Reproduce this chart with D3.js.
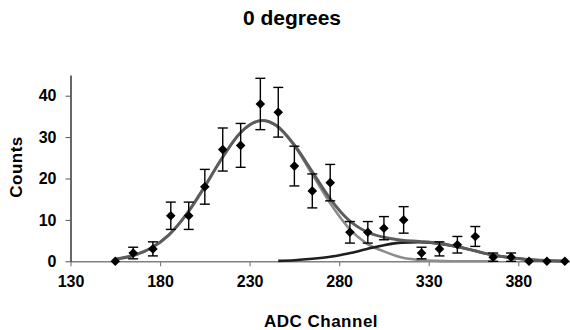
<!DOCTYPE html>
<html>
<head>
<meta charset="utf-8">
<script src="https://cdn.jsdelivr.net/npm/d3@7"></script>
<style>
  body { margin: 0; background: #fff; }
  text { font-family: "Liberation Sans", Arial, sans-serif; font-weight: bold; fill: #000; }
</style>
</head>
<body>
<svg id="chart"></svg>
<script>
const WIDTH = 570;
const HEIGHT = 330;

// measured points
const adc = [155, 165, 176, 186, 196, 205, 215, 225, 236, 246, 255, 265, 275,
  286, 296, 305, 316, 326, 336, 346, 356, 366, 376, 386, 396, 406];
const counts = [0, 2, 3, 11, 11, 18, 27, 28, 38, 36, 23, 17, 19,
  7, 7, 8, 10, 2, 3, 4, 6, 1, 1, 0, 0, 0];
const errs = [0, 1.4, 1.7, 3.3, 3.3, 4.2, 5.2, 5.3, 6.2, 6.0, 4.8, 4.1, 4.4,
  2.6, 2.6, 2.8, 3.2, 1.4, 1.7, 2.0, 2.4, 1.0, 1.0, 0, 0, 0];

// fitted curves
const fitX = [155, 165, 175, 185, 195, 205, 215, 225, 237, 245, 255, 265, 275,
  285, 295, 305, 315, 325, 335, 345, 355, 365, 375, 385, 395, 406];
const fitTotal = [0.5, 1.4, 3.2, 6.4, 11.5, 18.1, 25.2, 31.1, 34.0, 32.8, 28.1, 21.6, 15.1,
  10.1, 7.2, 5.8, 5.1, 4.8, 4.4, 3.6, 2.6, 1.6, 0.9, 0.45, 0.2, 0.05];
const peak1X = [155, 165, 175, 185, 195, 205, 215, 225, 237, 245, 255, 265, 275,
  285, 295, 305, 315, 325, 335, 345, 355, 366];
const peak1 = [0.5, 1.4, 3.2, 6.4, 11.5, 18.1, 25.2, 31.1, 34.0, 32.7, 27.9, 21.0, 14.0,
  8.2, 4.4, 2.4, 0.9, 0.3, 0.1, 0, 0, 0];
const peak2X = [246, 255, 265, 275, 285, 295, 305, 315, 324, 335, 345, 355, 365,
  375, 385, 395, 406];
const peak2 = [0.1, 0.25, 0.6, 1.1, 1.9, 2.9, 3.9, 4.5, 4.6, 4.3, 3.6, 2.6, 1.6,
  0.9, 0.45, 0.2, 0.05];

const xTicks = [130, 180, 230, 280, 330, 380];
const yTicks = [0, 10, 20, 30, 40];

const svg = d3.select('#chart')
  .attr('width', WIDTH)
  .attr('height', HEIGHT);

const x = d3.scaleLinear().domain([130, 410]).range([70.5, 572]);
const y = d3.scaleLinear().domain([0, 45]).range([261.3, 75]);

// title
svg.append('text')
  .attr('x', 292).attr('y', 25)
  .attr('text-anchor', 'middle')
  .style('font-size', '21px')
  .text('0 degrees');

// x axis
const xAxis = svg.append('g')
  .attr('transform', `translate(0,${y(0)})`)
  .call(d3.axisBottom(x).tickValues(xTicks).tickSize(5).tickSizeOuter(0).tickPadding(9));
xAxis.select('.domain').attr('stroke', '#808080').attr('stroke-width', 1.5);
xAxis.selectAll('.tick line').attr('stroke', '#808080').attr('stroke-width', 1.2);
xAxis.selectAll('.tick text')
  .style('font-size', '16px').style('font-family', '"Liberation Sans", Arial, sans-serif')
  .style('font-weight', 'bold').attr('fill', '#000');

// y axis
const yAxis = svg.append('g')
  .attr('transform', `translate(${x(130)},0)`)
  .call(d3.axisLeft(y).tickValues(yTicks).tickSize(5).tickSizeOuter(0).tickPadding(9));
yAxis.select('.domain').attr('stroke', '#000').attr('stroke-width', 1.2);
yAxis.selectAll('.tick line').attr('stroke', '#555');
yAxis.selectAll('.tick text')
  .style('font-size', '16px').style('font-family', '"Liberation Sans", Arial, sans-serif')
  .style('font-weight', 'bold').attr('fill', '#000');

// axis titles
svg.append('text')
  .attr('x', 321).attr('y', 327)
  .attr('text-anchor', 'middle')
  .style('font-size', '17px')
  .style('letter-spacing', '0.5px')
  .text('ADC Channel');

svg.append('text')
  .attr('transform', 'translate(22,167) rotate(-90)')
  .attr('text-anchor', 'middle')
  .style('font-size', '17px')
  .style('letter-spacing', '0.5px')
  .text('Counts');

// curves
const line = d3.line()
  .x(d => x(d[0]))
  .y(d => y(d[1]))
  .curve(d3.curveMonotoneX);

svg.append('path')
  .datum(d3.zip(peak1X, peak1))
  .attr('d', line)
  .attr('fill', 'none')
  .attr('stroke', '#8c8c8c')
  .attr('stroke-width', 2.6);

svg.append('path')
  .datum(d3.zip(peak2X, peak2))
  .attr('d', line)
  .attr('fill', 'none')
  .attr('stroke', '#1e1e1e')
  .attr('stroke-width', 2.6);

svg.append('path')
  .datum(d3.zip(fitX, fitTotal))
  .attr('d', line)
  .attr('fill', 'none')
  .attr('stroke', '#5c5c5c')
  .attr('stroke-width', 3);

// error bars
const pts = adc.map((a, i) => ({ a, c: counts[i], e: errs[i] }));
const bars = svg.append('g')
  .selectAll('g')
  .data(pts.filter(d => d.e > 0))
  .enter().append('g')
  .attr('stroke', '#000')
  .attr('stroke-width', 1.4);

bars.append('line')
  .attr('x1', d => x(d.a)).attr('x2', d => x(d.a))
  .attr('y1', d => y(d.c - d.e)).attr('y2', d => y(d.c + d.e));
bars.append('line')
  .attr('x1', d => x(d.a) - 5).attr('x2', d => x(d.a) + 5)
  .attr('y1', d => y(d.c + d.e)).attr('y2', d => y(d.c + d.e));
bars.append('line')
  .attr('x1', d => x(d.a) - 5).attr('x2', d => x(d.a) + 5)
  .attr('y1', d => y(d.c - d.e)).attr('y2', d => y(d.c - d.e));

// markers
const diamond = d3.symbol().type(d3.symbolSquare).size(46);
svg.append('g')
  .selectAll('path')
  .data(pts)
  .enter().append('path')
  .attr('d', diamond)
  .attr('transform', d => `translate(${x(d.a)},${y(d.c)}) rotate(45)`)
  .attr('fill', '#000');
</script>
</body>
</html>
